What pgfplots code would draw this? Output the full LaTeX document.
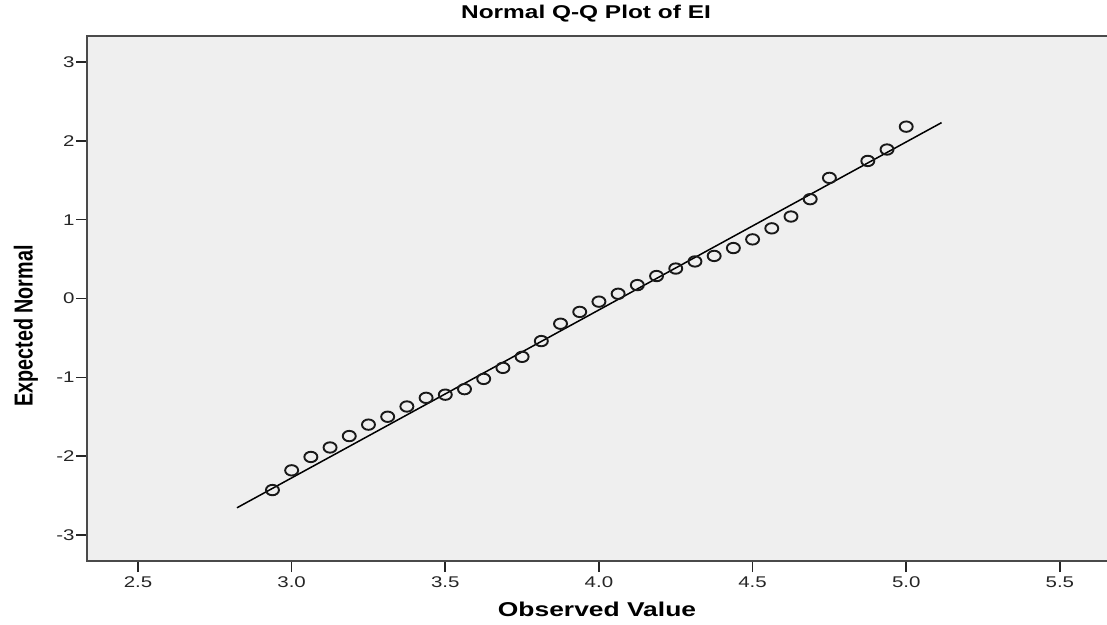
\documentclass[border=0pt]{standalone}
\usepackage{pgfplots}
\pgfplotsset{compat=1.18}
\usepackage{fontspec}
\setmainfont{Liberation Sans}
\newfontfamily\sfw[FakeStretch=1.32]{Liberation Sans}
\newfontfamily\sfn[FakeStretch=0.76]{Liberation Sans}
\definecolor{bgc}{HTML}{EFEFEF}
\definecolor{frame}{HTML}{4A4A4A}
\begin{document}
\begin{tikzpicture}[x=1pt,y=1pt]
\useasboundingbox (0,0) rectangle (1107,624);
\begin{axis}[
  at={(87pt,63pt)}, anchor=south west,
  scale only axis, width=1022pt, height=525pt,
  xmin=2.334, xmax=5.660, ymin=-3.33, ymax=3.33,
  axis background/.style={fill=bgc},
  axis line style={draw=frame, line width=1.6pt},
  xtick={2.5,3,3.5,4,4.5,5,5.5},
  ytick={-3,-2,-1,0,1,2,3},
  tick align=outside, tick pos=left,
  major tick length=11pt,
  every tick/.style={draw=black!85, line width=1.6pt},
  /pgf/number format/assume math mode=true,
  ticklabel style={font=\sfw\fontsize{15.5}{17}\selectfont, text=black!85},
  xticklabel style={/pgf/number format/.cd, fixed, fixed zerofill, precision=1},
  yticklabel style={/pgf/number format/.cd, fixed, precision=0},
  xticklabel shift=1pt,
  yticklabel shift=-2pt,
  clip=false,
]
\addplot[black, line width=1.5pt] coordinates {(2.822,-2.655) (5.115,2.231)};
\addplot[only marks, mark=o, mark size=5.2pt,
  mark options={line width=1.9pt, draw=black!90, xscale=1.25}] coordinates {
(2.9375,-2.43) (3.0,-2.18) (3.0625,-2.01) (3.125,-1.89) (3.1875,-1.745)
(3.25,-1.60) (3.3125,-1.50) (3.375,-1.37) (3.4375,-1.26) (3.5,-1.22)
(3.5625,-1.15) (3.625,-1.02) (3.6875,-0.88) (3.75,-0.74) (3.8125,-0.54)
(3.875,-0.32) (3.9375,-0.17) (4.0,-0.04) (4.0625,0.06) (4.125,0.17)
(4.1875,0.285) (4.25,0.38) (4.3125,0.47) (4.375,0.54) (4.4375,0.64)
(4.5,0.75) (4.5625,0.89) (4.625,1.04) (4.6875,1.26) (4.75,1.53)
(4.875,1.745) (4.9375,1.89) (5.0,2.18)};
\end{axis}
\node[font=\sfw\bfseries\fontsize{18.5}{20}\selectfont] at (586,610) {Normal Q-Q Plot of EI};
\node[font=\sfw\bfseries\fontsize{20}{22}\selectfont] at (597,15) {Observed Value};
\node[font=\sfn\bfseries\fontsize{26}{28}\selectfont, rotate=90] at (26,298) {Expected Normal};
\end{tikzpicture}
\end{document}
